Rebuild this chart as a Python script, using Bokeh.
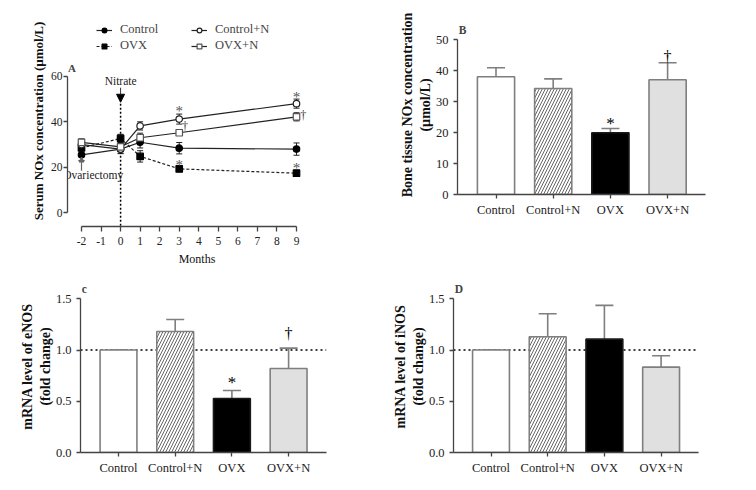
from bokeh.plotting import figure
from bokeh.layouts import column, row
from bokeh.models import (ColumnDataSource, Whisker, TeeHead, Range1d, FixedTicker, Legend,
                          LegendItem, Label, Arrow, NormalHead, NumeralTickFormatter)
from bokeh.embed import file_html
from bokeh.resources import INLINE
from bokeh.core.properties import value

FONT = "Liberation Serif"

# ---------------- Data ----------------
months = [-2, 0, 1, 3, 9]
month_ticks = [-2, -1, 0, 1, 2, 3, 4, 5, 6, 7, 8, 9]
month_labels = ["-2", "-1", "0", "1", "2", "3", "4", "5", "6", "7", "8", "9"]
ctrl_mean = [25.5, 28.0, 31.0, 28.4, 28.0]
ctrl_err = [2.5, 1.8, 2.5, 2.5, 2.7]
ovx_mean = [28.5, 32.7, 24.8, 19.3, 17.4]
ovx_err = [2.5, 1.8, 2.5, 1.0, 1.3]
ctrln_mean = [30.0, 28.0, 38.2, 41.2, 48.0]
ctrln_err = [1.5, 2.0, 1.8, 2.2, 2.0]
ovxn_mean = [31.0, 29.0, 33.0, 35.2, 42.2]
ovxn_err = [1.5, 2.0, 2.0, 1.2, 1.8]

groups = ["Control", "Control+N", "OVX", "OVX+N"]
bone_nox = [38.0, 34.2, 19.9, 37.0]
bone_nox_err = [2.9, 3.1, 1.4, 5.5]
enos = [1.0, 1.18, 0.527, 0.82]
enos_err = [0.0, 0.117, 0.078, 0.198]
inos = [1.0, 1.129, 1.106, 0.833]
inos_err = [0.0, 0.225, 0.329, 0.111]
fold_baseline = 1.0

bar_fill = ["white", "white", "black", "#e0e0e0"]
bar_line = ["#7f7f7f", "#7f7f7f", "#1a1a1a", "#7f7f7f"]
bar_hatch = [" ", "/", " ", " "]

# significance marks (x, y)
a_star_x = [3, 3, 9, 9]
a_star_y = [44.6, 21.2, 51.0, 19.6]
a_dag_x = [3.3, 9.35]
a_dag_y = [38.0, 42.8]

AX = "#444444"


def style(p, label_size="13px", tick_size="12.5px"):
    p.outline_line_color = None
    p.xgrid.visible = False
    p.ygrid.visible = False
    p.frame_align = False
    for ax in p.axis:
        ax.axis_line_color = AX
        ax.axis_line_width = 1.3
        ax.major_tick_line_color = AX
        ax.major_tick_line_width = 1.3
        ax.minor_tick_line_color = None
        ax.major_tick_in = 0
        ax.major_tick_out = 4
        ax.major_label_text_font = FONT
        ax.major_label_text_font_size = tick_size
        ax.major_label_text_color = "#222222"
        ax.axis_label_text_font = FONT
        ax.axis_label_text_font_size = label_size
        ax.axis_label_text_color = "#111111"


# ---------------- Panel A ----------------
# page pixels: frame 67..326 x 15..230 ; x=-2 at 81, x=9 at 296 ; y=0 at 216, y=60 at 77
pxA = (296 - 81) / 11
pyA = (216 - 77) / 60
xa0 = -2 - (81 - 67) / pxA
xa1 = xa0 + (326 - 67) / pxA
ya0 = -(230 - 216) / pyA
ya1 = ya0 + (230 - 15) / pyA
pA = figure(width=380, height=268, x_range=Range1d(xa0, xa1), y_range=Range1d(ya0, ya1),
            output_backend="svg", toolbar_location=None,
            min_border_left=67, min_border_right=54, min_border_top=15, min_border_bottom=38)
style(pA, tick_size="11.5px", label_size="13px")
pA.xaxis.bounds = (-2, 9)
pA.yaxis.bounds = (0, 60)
pA.xaxis.ticker = FixedTicker(ticks=month_ticks)
pA.xaxis.major_label_overrides = dict(zip(month_ticks, month_labels))
pA.yaxis.ticker = FixedTicker(ticks=[0, 20, 40, 60])
pA.yaxis.major_label_standoff = 1
pA.xaxis.major_tick_out = 5
pA.xaxis.axis_label = "Months"
pA.xaxis.axis_label_text_font_style = "normal"
pA.xaxis.axis_label_text_font_size = "12px"
pA.xaxis.axis_label_standoff = 4
pA.yaxis.axis_label = "Serum NOx concentration (µmol/L)"
pA.yaxis.axis_label_text_font_style = "bold"
pA.yaxis.axis_label_standoff = 2

# vertical dotted line at nitrate start
pA.segment(x0=[0], y0=[48.0], x1=[0], y1=[ya0], line_color="black", line_width=1.5,
           line_dash="2 2")

series = [
    ("Control", ctrl_mean, ctrl_err, "circle", "black", "black", "solid"),
    ("OVX", ovx_mean, ovx_err, "square", "black", "black", "3 2"),
    ("Control+N", ctrln_mean, ctrln_err, "circle", "white", "#222222", "solid"),
    ("OVX+N", ovxn_mean, ovxn_err, "square", "white", "#555555", "solid"),
]
items = {}
for name, m, e, mk, fc, lc, dash in series:
    src = ColumnDataSource(dict(x=months, y=m,
                                lo=[a - b for a, b in zip(m, e)],
                                hi=[a + b for a, b in zip(m, e)]))
    ln = pA.line("x", "y", source=src, line_color="#222222", line_width=1.2, line_dash=dash)
    w = Whisker(base="x", lower="lo", upper="hi", source=src, line_color="#222222",
                line_width=1, level="underlay",
                upper_head=TeeHead(size=6, line_color="#222222", line_width=1),
                lower_head=TeeHead(size=6, line_color="#222222", line_width=1))
    pA.add_layout(w)
    sc = pA.scatter("x", "y", source=src, marker=mk, size=6.5, fill_color=fc,
                    line_color=lc, line_width=1.2)
    items[name] = [ln, sc]

pA.text(x=a_star_x, y=a_star_y, text=["*"] * len(a_star_x), text_font=value(FONT),
        text_font_size="15px", text_align="center", text_baseline="middle", text_color="#555555")
pA.text(x=a_dag_x, y=a_dag_y, text=["†"] * len(a_dag_x), text_font=value(FONT),
        text_font_size="12px", text_align="center", text_baseline="middle", text_color="#333333")

pA.add_layout(Arrow(x_start=0, y_start=55.0, x_end=0, y_end=48.6, line_color="#333333",
                    line_width=1, end=NormalHead(size=8, fill_color="black", line_color="black")))
pA.add_layout(Label(x=0, y=58.0, text="Nitrate", text_font=FONT, text_font_size="11.5px",
                    text_align="center", text_baseline="middle", text_color="#222222"))
pA.add_layout(Arrow(x_start=-2, y_start=18.5, x_end=-2, y_end=24.5, line_color="#666666",
                    line_width=1.2, end=NormalHead(size=5, fill_color="#666666", line_color="#666666")))
pA.add_layout(Label(x=-1.4, y=16.4, text="Ovariectomy", text_font=FONT, text_font_size="11.5px",
                    text_align="center", text_baseline="middle", text_color="#222222"))
pA.add_layout(Label(x=xa0 + 0.5 / pxA, y=63.6, text="A", text_font=FONT, text_font_size="11px",
                    text_font_style="bold", text_align="left", text_baseline="middle"))


def mk_legend(name, xloc, yloc):
    return Legend(items=[LegendItem(label=name, renderers=items[name])],
                  location=(xloc, yloc), padding=0, margin=0, spacing=0,
                  glyph_width=16, glyph_height=12, label_height=12, label_standoff=8,
                  label_text_font=FONT, label_text_font_size="12.5px",
                  border_line_alpha=0, background_fill_alpha=0)


pA.add_layout(mk_legend("Control", 29, 189))
pA.add_layout(mk_legend("OVX", 29, 173))
pA.add_layout(mk_legend("Control+N", 124, 189))
pA.add_layout(mk_legend("OVX+N", 124, 173))


# ---------------- Bar panels ----------------
def bar_panel(width, height, left_abs, top_abs, frame_l, frame_r, first_c, spacing,
              frame_t, frame_b, y_per, means, errs, yticks, ylabel, letter, star, dagger,
              ref_line, fmt=None):
    x0 = 1 - (first_c - frame_l) / spacing
    x1 = x0 + (frame_r - frame_l) / spacing
    y_end = (frame_b - frame_t) / y_per
    p = figure(width=width, height=height, x_range=Range1d(x0, x1),
               y_range=Range1d(0, y_end),
               output_backend="svg", toolbar_location=None,
               min_border_left=frame_l - left_abs, min_border_right=left_abs + width - frame_r,
               min_border_top=frame_t - top_abs, min_border_bottom=top_abs + height - frame_b)
    style(p, label_size="14px")
    p.yaxis.bounds = (yticks[0], yticks[-1])
    p.yaxis.ticker = FixedTicker(ticks=yticks)
    if fmt:
        p.yaxis.formatter = NumeralTickFormatter(format=fmt)
    p.xaxis.ticker = FixedTicker(ticks=[1, 2, 3, 4])
    p.xaxis.major_label_overrides = {i + 1: g for i, g in enumerate(groups)}
    p.xaxis.major_label_standoff = 4
    p.yaxis.axis_label = ylabel
    p.yaxis.axis_label_text_font_style = "bold"
    p.yaxis.axis_label_standoff = 0
    if ref_line:
        p.segment(x0=[x0], x1=[x1], y0=[fold_baseline], y1=[fold_baseline], line_color="black",
                  line_dash="2 3", line_width=1.5, level="underlay")
    src = ColumnDataSource(dict(x=[1, 2, 3, 4], top=means, fill=bar_fill, line=bar_line,
                                hatch=bar_hatch,
                                hi=[a + b for a, b in zip(means, errs)]))
    p.vbar(x="x", top="top", bottom=0, width=0.65, source=src, fill_color="fill",
           line_color="line", line_width=1.6, hatch_pattern="hatch", hatch_color="#666666",
           hatch_scale=6, hatch_weight=1)
    p.add_layout(Whisker(base="x", lower="top", upper="hi", source=src, line_color="#7f7f7f",
                         line_width=1.6, lower_head=None,
                         upper_head=TeeHead(size=18, line_color="#7f7f7f", line_width=1.6)))
    if star:
        p.text(x=[star[0]], y=[star[1]], text=["*"], text_font=value(FONT),
               text_font_size="17px", text_align="center", text_baseline="middle")
    if dagger:
        p.text(x=[dagger[0]], y=[dagger[1]], text=["†"], text_font=value(FONT),
               text_font_size="16px", text_align="center", text_baseline="middle")
    p.add_layout(Label(x=x0 + 0.02, y=letter[1], text=letter[0], text_font=FONT,
                       text_font_size="11.5px", text_font_style="bold", text_align="left",
                       text_baseline="middle"))
    return p


pB = bar_panel(368, 268, 380, 0, 457, 705, 495.5, 57.2, 15, 194, 3.1,
               bone_nox, bone_nox_err, [0, 10, 20, 30, 40, 50],
               "Bone tissue NOx concentration\n(µmol/L)", ("B", 53.2),
               (3, 22.8), (4, 44.5), False)
pC = bar_panel(380, 214, 0, 268, 80, 326, 118, 56.7, 280, 452, 102.5,
               enos, enos_err, [0, 0.5, 1.0, 1.5],
               "mRNA level of eNOS\n(fold change)", ("c", 1.6),
               (3, 0.68), (4, 1.16), True, fmt="0.0")
pD = bar_panel(368, 214, 380, 268, 453, 698, 490.5, 56.7, 280, 452, 102.5,
               inos, inos_err, [0, 0.5, 1.0, 1.5],
               "mRNA level of iNOS\n(fold change)", ("D", 1.6),
               None, None, True, fmt="0.0")

layout = column(row(pA, pB), row(pC, pD))
open("out.html", "w").write(file_html(layout, INLINE))
